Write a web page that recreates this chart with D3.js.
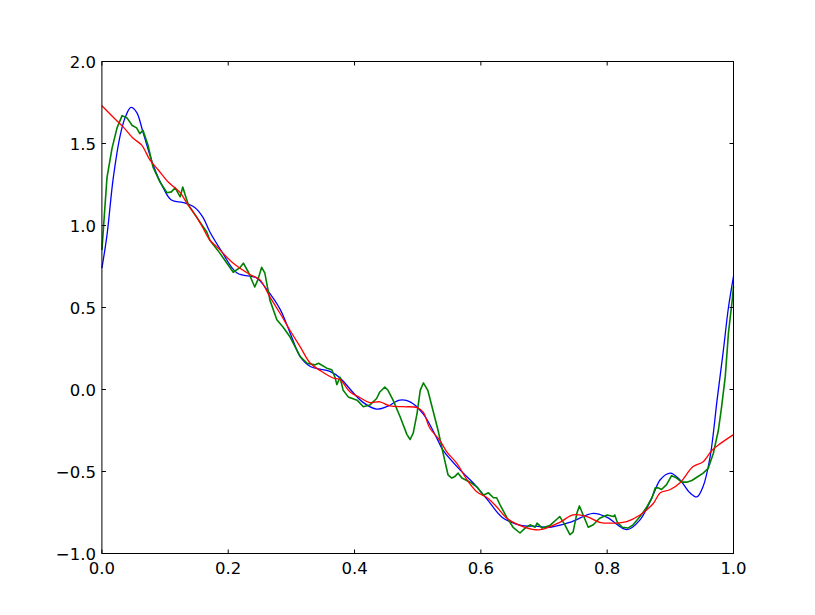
<!DOCTYPE html>
<html>
<head>
<meta charset="utf-8">
<script src="https://cdn.jsdelivr.net/npm/d3@7"></script>
<style>
  body { margin: 0; background: #fff; }
  text { font-family: "DejaVu Sans", sans-serif; font-size: 16.5px; fill: #000; }
</style>
</head>
<body>
<div id="chart"></div>
<script>
// values
const xTicks = [0.0, 0.2, 0.4, 0.6, 0.8, 1.0];
const yTicks = [-1.0, -0.5, 0.0, 0.5, 1.0, 1.5, 2.0];

const blueX = [0, 0.008, 0.018, 0.029, 0.037, 0.046, 0.055, 0.065, 0.081, 0.097, 0.11, 0.129, 0.147, 0.16, 0.171, 0.19, 0.214, 0.245, 0.261, 0.282, 0.298, 0.314, 0.33, 0.361, 0.377, 0.398, 0.414, 0.435, 0.451, 0.472, 0.488, 0.509, 0.532, 0.54, 0.567, 0.588, 0.61, 0.634, 0.66, 0.69, 0.71, 0.741, 0.778, 0.80, 0.831, 0.852, 0.873, 0.884, 0.9, 0.915, 0.931, 0.942, 0.952, 0.963, 0.974, 0.984, 0.992, 1.0];
const blueY = [0.74, 0.94, 1.29, 1.55, 1.66, 1.72, 1.69, 1.57, 1.37, 1.23, 1.155, 1.14, 1.11, 1.05, 0.96, 0.84, 0.71, 0.68, 0.61, 0.49, 0.345, 0.20, 0.14, 0.11, 0.07, -0.02, -0.08, -0.12, -0.105, -0.065, -0.075, -0.15, -0.31, -0.37, -0.49, -0.57, -0.67, -0.78, -0.825, -0.835, -0.84, -0.81, -0.755, -0.78, -0.855, -0.795, -0.64, -0.55, -0.51, -0.55, -0.63, -0.655, -0.59, -0.41, -0.065, 0.24, 0.5, 0.69];

const redX = [0, 0.018, 0.034, 0.05, 0.063, 0.076, 0.089, 0.105, 0.124, 0.134, 0.151, 0.16, 0.171, 0.182, 0.208, 0.235, 0.25, 0.266, 0.282, 0.298, 0.314, 0.33, 0.346, 0.366, 0.377, 0.393, 0.409, 0.424, 0.44, 0.456, 0.477, 0.499, 0.509, 0.519, 0.535, 0.546, 0.562, 0.578, 0.594, 0.61, 0.625, 0.641, 0.67, 0.694, 0.725, 0.746, 0.768, 0.788, 0.81, 0.831, 0.852, 0.873, 0.884, 0.9, 0.915, 0.936, 0.952, 0.966, 0.979, 1.0];
const redY = [1.73, 1.66, 1.60, 1.53, 1.49, 1.40, 1.34, 1.265, 1.20, 1.14, 1.045, 0.985, 0.91, 0.87, 0.77, 0.70, 0.67, 0.565, 0.465, 0.36, 0.26, 0.16, 0.115, 0.07, 0.06, -0.015, -0.05, -0.08, -0.075, -0.10, -0.105, -0.11, -0.14, -0.235, -0.31, -0.38, -0.45, -0.55, -0.625, -0.66, -0.715, -0.785, -0.84, -0.855, -0.81, -0.765, -0.775, -0.81, -0.815, -0.805, -0.765, -0.695, -0.63, -0.61, -0.57, -0.47, -0.44, -0.37, -0.33, -0.275];

const greenX = [0, 0.008, 0.016, 0.024, 0.032, 0.04, 0.048, 0.055, 0.06, 0.065, 0.073, 0.081, 0.092, 0.103, 0.11, 0.116, 0.124, 0.128, 0.132, 0.137, 0.151, 0.166, 0.171, 0.187, 0.198, 0.208, 0.219, 0.224, 0.232, 0.242, 0.247, 0.253, 0.258, 0.266, 0.277, 0.287, 0.298, 0.306, 0.314, 0.325, 0.337, 0.343, 0.356, 0.364, 0.369, 0.372, 0.377, 0.382, 0.39, 0.404, 0.414, 0.424, 0.435, 0.44, 0.448, 0.453, 0.461, 0.472, 0.483, 0.488, 0.493, 0.499, 0.504, 0.509, 0.516, 0.524, 0.532, 0.54, 0.548, 0.554, 0.559, 0.564, 0.57, 0.583, 0.594, 0.604, 0.612, 0.62, 0.625, 0.63, 0.641, 0.651, 0.662, 0.67, 0.678, 0.686, 0.689, 0.697, 0.709, 0.722, 0.725, 0.733, 0.741, 0.746, 0.752, 0.756, 0.762, 0.77, 0.778, 0.788, 0.80, 0.81, 0.812, 0.816, 0.824, 0.833, 0.841, 0.852, 0.863, 0.871, 0.876, 0.881, 0.886, 0.894, 0.902, 0.91, 0.918, 0.926, 0.934, 0.942, 0.952, 0.96, 0.968, 0.976, 0.981, 0.987, 0.992, 0.998, 1.0];
const greenY = [0.85, 1.29, 1.47, 1.595, 1.67, 1.655, 1.61, 1.595, 1.56, 1.58, 1.49, 1.355, 1.265, 1.20, 1.205, 1.23, 1.175, 1.235, 1.185, 1.125, 1.045, 0.96, 0.91, 0.83, 0.77, 0.715, 0.745, 0.77, 0.715, 0.625, 0.67, 0.745, 0.71, 0.545, 0.425, 0.38, 0.32, 0.26, 0.20, 0.16, 0.15, 0.16, 0.13, 0.12, 0.075, 0.03, 0.075, -0.005, -0.045, -0.065, -0.105, -0.095, -0.055, -0.015, 0.015, -0.005, -0.065, -0.165, -0.275, -0.305, -0.265, -0.145, -0.005, 0.04, -0.005, -0.125, -0.245, -0.385, -0.52, -0.54, -0.53, -0.51, -0.54, -0.565, -0.595, -0.645, -0.63, -0.66, -0.66, -0.70, -0.78, -0.84, -0.875, -0.845, -0.825, -0.84, -0.815, -0.845, -0.83, -0.785, -0.775, -0.825, -0.885, -0.87, -0.755, -0.71, -0.765, -0.84, -0.825, -0.785, -0.765, -0.775, -0.765, -0.81, -0.84, -0.845, -0.825, -0.775, -0.715, -0.66, -0.60, -0.60, -0.61, -0.58, -0.525, -0.54, -0.565, -0.565, -0.555, -0.535, -0.51, -0.48, -0.39, -0.25, -0.11, 0.08, 0.345, 0.545, 0.63];

const width = 815, height = 615;
const margin = { left: 101.9, right: 815 - 733.5, top: 61.5, bottom: 615 - 553.5 };

const svg = d3.select("#chart")
    .append("svg")
    .attr("width", width)
    .attr("height", height);

const x = d3.scaleLinear().domain([0, 1]).range([margin.left, width - margin.right]);
const y = d3.scaleLinear().domain([-1, 2]).range([height - margin.bottom, margin.top]);

function pairs(xs, ys) {
    return xs.map((v, i) => [v, ys[i]]);
}

const smooth = d3.line().x(d => x(d[0])).y(d => y(d[1])).curve(d3.curveCatmullRom.alpha(0.5));
const plain = d3.line().x(d => x(d[0])).y(d => y(d[1]));

const plot = svg.append("g");

plot.append("path")
    .attr("d", smooth(pairs(blueX, blueY)))
    .attr("fill", "none")
    .attr("stroke", "#0000ff")
    .attr("stroke-width", 1.3);

plot.append("path")
    .attr("d", plain(pairs(greenX, greenY)))
    .attr("fill", "none")
    .attr("stroke", "#008000")
    .attr("stroke-width", 1.6)
    .attr("stroke-linejoin", "round");

plot.append("path")
    .attr("d", smooth(pairs(redX, redY)))
    .attr("fill", "none")
    .attr("stroke", "#ff0000")
    .attr("stroke-width", 1.3);

// ticks go inward on all four sides (classic style)
const tickLen = 4;
const x0 = x.range()[0], x1 = x.range()[1];
const yb = y.range()[0], yt = y.range()[1];

xTicks.forEach(t => {
    svg.append("line").attr("x1", x(t)).attr("x2", x(t)).attr("y1", yb).attr("y2", yb - tickLen).attr("stroke", "#000");
    svg.append("line").attr("x1", x(t)).attr("x2", x(t)).attr("y1", yt).attr("y2", yt + tickLen).attr("stroke", "#000");
    svg.append("text")
        .attr("x", x(t))
        .attr("y", yb + 20)
        .attr("text-anchor", "middle")
        .text(d3.format(".1f")(t));
});

yTicks.forEach(t => {
    svg.append("line").attr("x1", x0).attr("x2", x0 + tickLen).attr("y1", y(t)).attr("y2", y(t)).attr("stroke", "#000");
    svg.append("line").attr("x1", x1).attr("x2", x1 - tickLen).attr("y1", y(t)).attr("y2", y(t)).attr("stroke", "#000");
    svg.append("text")
        .attr("x", x0 - 6)
        .attr("y", y(t) + 6)
        .attr("text-anchor", "end")
        .text(d3.format(".1f")(t).replace("-", "\u2212"));
});

svg.append("rect")
    .attr("x", x0)
    .attr("y", yt)
    .attr("width", x1 - x0)
    .attr("height", yb - yt)
    .attr("fill", "none")
    .attr("stroke", "#000")
    .attr("stroke-width", 1);
</script>
</body>
</html>
